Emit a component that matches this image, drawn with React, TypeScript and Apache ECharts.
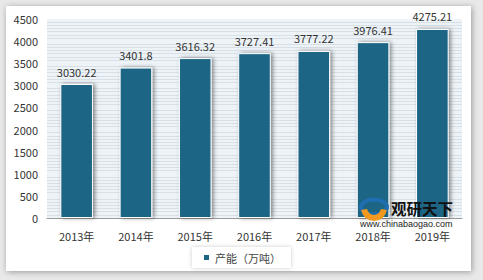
import React, { useEffect, useRef } from "react";
import * as echarts from "echarts";

const categories = ["2013年", "2014年", "2015年", "2016年", "2017年", "2018年", "2019年"];
const capacity = [3030.22, 3401.8, 3616.32, 3727.41, 3777.22, 3976.41, 4275.21];
const seriesName = "产能（万吨）";
const yMin = 0;
const yMax = 4500;
const yInterval = 500;

const FONT = "'Noto Sans CJK SC', 'Noto Sans', sans-serif";

export default function App() {
  const ref = useRef<HTMLDivElement>(null);
  useEffect(() => {
    document.body.style.margin = "0";
    const chart = echarts.init(ref.current!, null, { renderer: "svg" });
    chart.setOption({
      animation: false,
      backgroundColor: "#e9e9e9",
      textStyle: { fontFamily: FONT },
      graphic: [
        {
          type: "rect",
          z: -10,
          shape: { x: 6, y: 6, width: 465, height: 265 },
          style: { fill: "#ffffff", shadowBlur: 6, shadowColor: "rgba(0,0,0,0.35)", shadowOffsetX: 1, shadowOffsetY: 1 },
        },
        {
          type: "ellipse",
          z: 100,
          shape: { cx: 374, cy: 207, rx: 13, ry: 7.5 },
          style: { fill: "none", stroke: "#1f6fb0", lineWidth: 4 },
        },
        {
          type: "sector",
          z: 101,
          shape: { cx: 374, cy: 208, r: 13, r0: 7, startAngle: Math.PI * 0.05, endAngle: Math.PI * 0.95 },
          style: { fill: "#f39a1e" },
        },
        {
          type: "text",
          z: 102,
          style: { x: 391, y: 200, text: "观研天下", fill: "#111", font: "bold 15.5px 'Noto Sans CJK SC'", lineHeight: 15, verticalAlign: "top", align: "left" },
        },
        {
          type: "text",
          z: 102,
          style: { x: 360, y: 219, text: "www.chinabaogao.com", fill: "#222", font: "9px 'Liberation Sans'", lineHeight: 9, verticalAlign: "top", align: "left" },
        },
      ],
      grid: { left: 47, right: 21, top: 19, bottom: 62, show: true, backgroundColor: "#eef3f7", borderWidth: 0 },
      legend: {
        bottom: 12,
        left: "center",
        itemWidth: 7,
        itemHeight: 7,
        icon: "rect",
        backgroundColor: "#fff",
        shadowBlur: 4,
        shadowColor: "rgba(0,0,0,0.2)",
        padding: [5, 10],
        textStyle: { fontSize: 11, color: "#444", fontFamily: FONT },
        data: [seriesName],
      },
      xAxis: {
        type: "category",
        data: categories,
        axisLine: { show: true, lineStyle: { color: "#9a9a9a", width: 1 } },
        axisTick: { show: false },
        axisLabel: { fontSize: 11, lineHeight: 11, color: "#333", margin: 12, fontFamily: FONT },
      },
      yAxis: {
        type: "value",
        min: yMin,
        max: yMax,
        interval: yInterval,
        axisLine: { show: false },
        axisTick: { show: false },
        axisLabel: { fontSize: 11, color: "#333", margin: 9, fontFamily: FONT, formatter: (v: number) => String(v) },
        splitLine: { show: false },
        minorTick: { show: false, splitNumber: 7 },
        minorSplitLine: { show: true, lineStyle: { color: "#d8e0e7", width: 1 } },
      },
      series: [
        {
          name: seriesName,
          type: "bar",
          data: capacity,
          barWidth: "55%",
          itemStyle: {
            color: "#1b6585",
            borderColor: "#ffffff",
            borderWidth: 1,
            shadowBlur: 4,
            shadowColor: "rgba(0,0,0,0.45)",
            shadowOffsetX: 2,
            shadowOffsetY: 0,
          },
          label: { show: true, position: "top", distance: 7, fontSize: 11, color: "#333", fontFamily: FONT },
        },
      ],
    });
    return () => chart.dispose();
  }, []);
  return <div ref={ref} style={{ width: 483, height: 280 }} />;
}
